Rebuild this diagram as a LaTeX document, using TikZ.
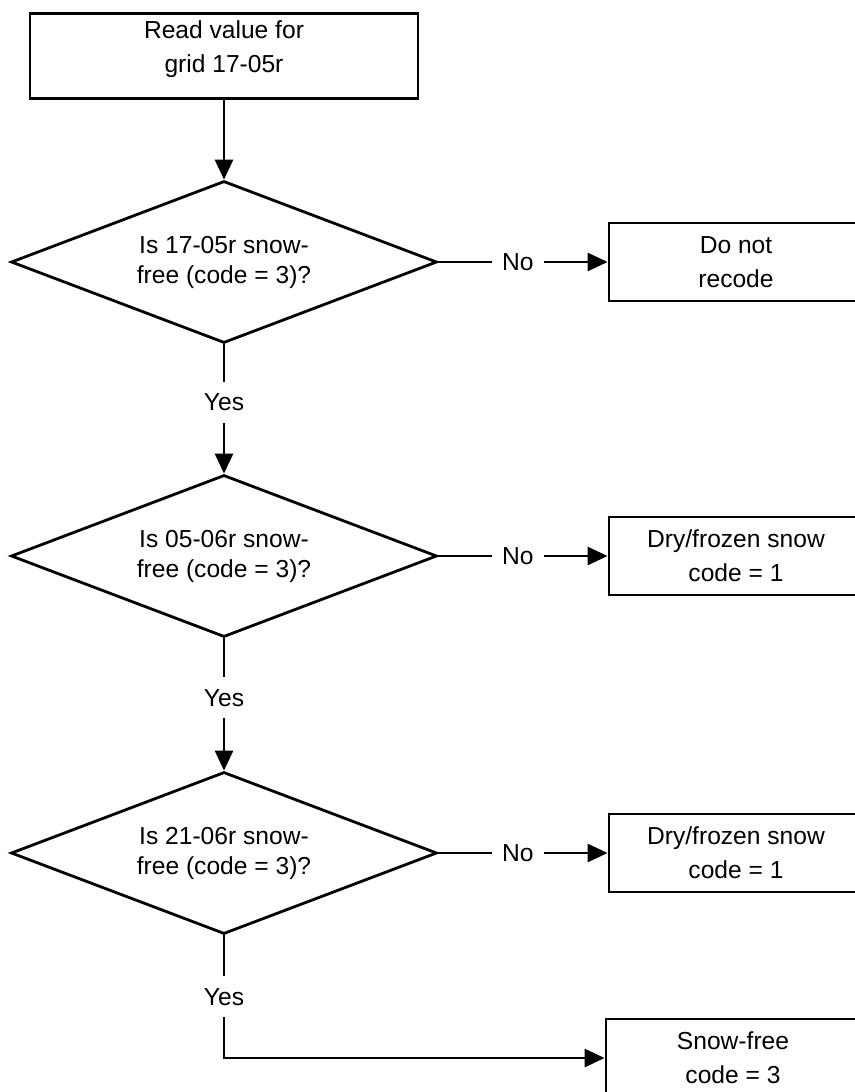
\documentclass[tikz,border=0pt]{standalone}
\usepackage{fontspec}
\setmainfont{Liberation Sans}
\usetikzlibrary{positioning,shapes.geometric,arrows.meta}

\begin{document}
\begin{tikzpicture}[x=0.5pt, y=-0.5pt,
    every node/.style={font=\fontsize{12.3}{17}\selectfont},
    box/.style={draw, rectangle, line width=1.4pt, minimum width=127pt, minimum height=39pt, align=center},
    decision/.style={draw, diamond, line width=1.4pt, aspect=2.63, inner sep=0pt,
        minimum width=213pt, minimum height=81pt, align=center,
        font=\fontsize{12.3}{15}\selectfont},
    flow/.style={line width=1.4pt, -{Triangle[length=10pt, width=9pt]}},
    lbl/.style={fill=white, inner xsep=5pt, inner ysep=6pt}]
    \useasboundingbox (0,0) rectangle (855,1092);
    \clip (0,0) rectangle (855,1092);

    % start
    \node[box, minimum width=194pt, minimum height=42.5pt] (read) at (224,56)
        {Read value for\\grid 17-05r\vspace{7pt}};

    % decisions
    \node[decision] (d1) at (224,262) {Is 17-05r snow-\\free (code = 3)?};
    \node[decision] (d2) at (224,556) {Is 05-06r snow-\\free (code = 3)?};
    \node[decision] (d3) at (224,853) {Is 21-06r snow-\\free (code = 3)?};

    % outcomes
    \node[box] (keep)  at (736,262) {Do not\\recode};
    \node[box] (dry1)  at (736,556) {Dry/frozen snow\\code = 1};
    \node[box] (dry2)  at (736,853) {Dry/frozen snow\\code = 1};
    \node[box] (free)  at (733,1058) {Snow-free\\code = 3};

    \draw[flow] (read) -- (d1);
    \draw[flow] (d1) -- node[lbl, pos=.45] {Yes} (d2);
    \draw[flow] (d2) -- node[lbl, pos=.45] {Yes} (d3);
    \draw[flow] (d3.south) |- node[lbl, pos=.25] {Yes} (free.west);

    \draw[flow] (d1) -- node[lbl, pos=.47] {No} (keep);
    \draw[flow] (d2) -- node[lbl, pos=.47] {No} (dry1);
    \draw[flow] (d3) -- node[lbl, pos=.47] {No} (dry2);
\end{tikzpicture}
\end{document}
